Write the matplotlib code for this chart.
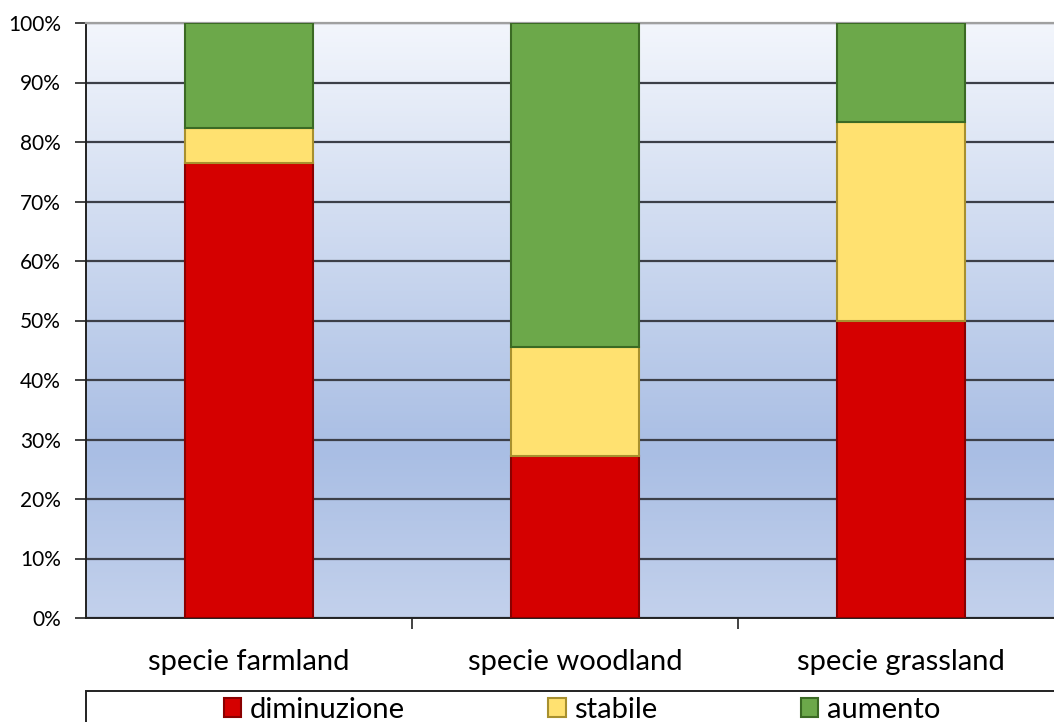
import numpy as np
import matplotlib.pyplot as plt
from matplotlib.colors import LinearSegmentedColormap
from matplotlib.patches import Rectangle

plt.rcParams['font.family'] = ['Lato', 'DejaVu Sans']

categories = ['specie farmland', 'specie woodland', 'specie grassland']
diminuzione = [76.5, 27.3, 50.0]
stabile = [5.9, 18.2, 33.3]
aumento = [17.6, 54.5, 16.7]

series = [('diminuzione', diminuzione, '#d50000', '#8a0000'),
          ('stabile', stabile, '#ffe170', '#a8902e'),
          ('aumento', aumento, '#6ca84a', '#3b6a24')]

W, H = 1054, 722
fig = plt.figure(figsize=(W / 100, H / 100), dpi=100)
ax = fig.add_axes([86 / W, 1 - 618 / H, (W - 86) / W, (618 - 23) / H])

# background gradient
bg = LinearSegmentedColormap.from_list('bg', [(0, '#c3d1ec'), (0.28, '#a9bee4'), (1, '#f3f6fc')])
grad = np.linspace(0, 1, 256).reshape(-1, 1)
ax.imshow(grad, aspect='auto', cmap=bg, origin='lower', extent=[0, 1, 0, 1],
          transform=ax.transAxes, zorder=0)

x = np.arange(len(categories))
bw = 0.39
bottom = np.zeros(len(categories))
for name, vals, fc, ec in series:
    vals = np.array(vals)
    ax.bar(x, vals, bw, bottom=bottom, color=fc, edgecolor=ec, linewidth=1.5,
           label=name, zorder=3)
    bottom += vals

ax.set_xlim(-0.5, -0.5 + (W - 86) / 326)
ax.set_ylim(0, 100)
ax.set_yticks(np.arange(0, 101, 10))
ax.set_yticklabels([f'{v}%' for v in range(0, 101, 10)], fontsize=15)
ax.yaxis.grid(True, color='#3c3f48', linewidth=1.6, zorder=1)
ax.set_axisbelow(True)

ax.set_xticks(x)
ax.set_xticklabels(categories, fontsize=21)
ax.set_xticks(np.arange(0.5, len(categories) - 0.5, 1), minor=True)
ax.tick_params(axis='x', which='major', length=0, pad=22)
ax.tick_params(axis='x', which='minor', length=8, width=1.2, color='#222222')
ax.tick_params(axis='y', length=8, width=1.2, color='#222222', pad=10)

ax.spines['right'].set_visible(False)
ax.spines['top'].set_color('#a0a0a0')
ax.spines['top'].set_linewidth(1.6)
ax.spines['left'].set_color('#222222')
ax.spines['left'].set_linewidth(1.4)
ax.spines['bottom'].set_color('#222222')
ax.spines['bottom'].set_linewidth(1.4)

# legend frame (cut off by the figure edge as in the reference)
fig.patches.append(Rectangle((86 / W, -0.1), 1.0, 0.1 + (H - 691) / H,
                             transform=fig.transFigure, fill=False,
                             edgecolor='#222222', linewidth=1.4))
handles, labels = ax.get_legend_handles_labels()
fig.legend(handles, labels,
           loc='center', bbox_to_anchor=(582 / W, 1 - 710 / H), ncol=3,
           frameon=False, fontsize=21, handlelength=0.6, handleheight=0.6,
           handletextpad=0.3, columnspacing=4.9, borderpad=0)

fig.savefig('out.png', dpi=100)
